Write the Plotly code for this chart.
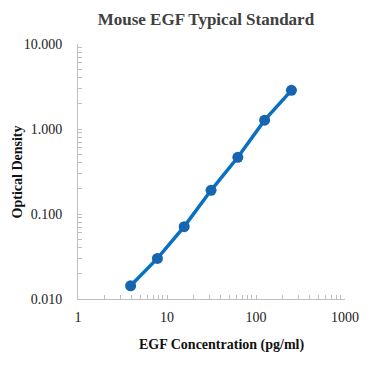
import plotly.graph_objects as go

concentration = [3.9, 7.8, 15.6, 31.25, 62.5, 125, 250]
optical_density = [0.0143, 0.030, 0.071, 0.19, 0.465, 1.27, 2.85]

x_tick_vals = [1, 2, 3, 4, 5, 6, 7, 8, 9, 10, 20, 30, 40, 50, 60, 70, 80, 90,
               100, 200, 300, 400, 500, 600, 700, 800, 900, 1000]
x_major = {1: "1", 10: "10", 100: "100", 1000: "1000"}
x_tick_text = [x_major.get(v, "") for v in x_tick_vals]
y_tick_vals = [0.01, 0.02, 0.03, 0.04, 0.05, 0.06, 0.07, 0.08, 0.09,
               0.1, 0.2, 0.3, 0.4, 0.5, 0.6, 0.7, 0.8, 0.9,
               1, 2, 3, 4, 5, 6, 7, 8, 9, 10]
y_major = {0.01: "0.010", 0.1: "0.100", 1: "1.000", 10: "10.000"}
y_tick_text = [y_major.get(v, "") for v in y_tick_vals]

serif = "Liberation Serif"

fig = go.Figure()
fig.add_trace(go.Scatter(
    x=concentration, y=optical_density, mode="lines+markers",
    line=dict(color="#0A70C2", width=3.5),
    marker=dict(color="#1565B0", size=11),
    showlegend=False,
))

axis_common = dict(
    type="log", showgrid=False, zeroline=False,
    showline=True, linecolor="#BFBFBF", linewidth=1,
    ticks="inside", ticklen=4, tickcolor="#BFBFBF",
    tickfont=dict(family=serif, size=14, color="#222222"),
    tickmode="array", automargin=False,
)

fig.update_layout(
    width=371, height=372,
    margin=dict(l=78, r=26, t=44, b=73),
    paper_bgcolor="white", plot_bgcolor="white",
    title=dict(text="<b>Mouse EGF Typical Standard</b>", x=0.555, xanchor="center",
               y=0.948, yanchor="middle",
               font=dict(family=serif, size=17, color="#404040")),
    xaxis=dict(range=[0, 3], tickvals=x_tick_vals, ticktext=x_tick_text,
               ticklabelstandoff=5, **axis_common),
    yaxis=dict(range=[-2, 1], tickvals=y_tick_vals, ticktext=y_tick_text,
               ticklabelstandoff=12, **axis_common),
    annotations=[
        dict(text="<b>Optical Density</b>", xref="paper", yref="paper",
             x=-0.225, y=0.5, xanchor="center", yanchor="middle",
             textangle=-90, showarrow=False,
             font=dict(family=serif, size=14, color="#111111")),
        dict(text="<b>EGF Concentration (pg/ml)</b>", xref="paper", yref="paper",
             x=0.536, y=-0.18, xanchor="center", yanchor="middle",
             showarrow=False,
             font=dict(family=serif, size=14, color="#111111")),
    ],
)

fig.write_html("out.html", config={"displayModeBar": False},
               post_script="document.body.style.margin='0';")
